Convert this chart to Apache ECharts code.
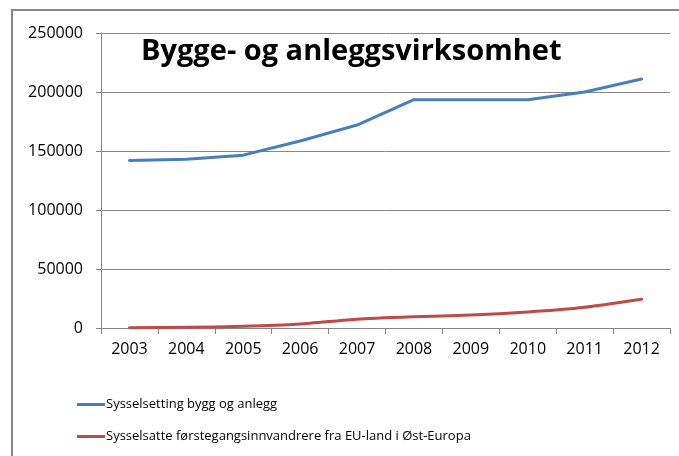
<!DOCTYPE html>
<html>
<head>
<meta charset="utf-8">
<style>
  html, body { margin: 0; padding: 0; background: #fff; }
  #chart { width: 679px; height: 456px; }
</style>
<script src="https://cdn.jsdelivr.net/npm/echarts@6/dist/echarts.min.js"></script>
</head>
<body>
<div id="chart"></div>
<script>
// data
const years = ['2003', '2004', '2005', '2006', '2007', '2008', '2009', '2010', '2011', '2012'];
const totalBuild = [142000, 143000, 146500, 158500, 172000, 193500, 193500, 193500, 200000, 211000];
const eastEuWorkers = [300, 600, 1400, 3400, 7500, 9500, 11000, 13500, 17500, 24300];
const seriesNames = [
  'Sysselsetting bygg og anlegg',
  'Sysselsatte førstegangsinnvandrere fra EU-land i Øst-Europa'
];

const font = '"Open Sans", sans-serif';

const chart = echarts.init(document.getElementById('chart'));
chart.setOption({
  animation: false,
  backgroundColor: '#fff',
  title: {
    text: 'Bygge- og anleggsvirksomhet',
    left: 136,
    top: 32,
    textStyle: { fontFamily: font, fontWeight: 'bold', fontSize: 29, color: '#000' }
  },
  graphic: [{
    type: 'rect',
    shape: { x: 12, y: 10, width: 700, height: 500 },
    style: { fill: 'none', stroke: '#868686', lineWidth: 2 },
    silent: true
  }],
  legend: {
    orient: 'vertical',
    left: 72,
    top: 393,
    itemWidth: 28,
    itemHeight: 3,
    itemGap: 19,
    icon: 'rect',
    textStyle: { fontFamily: font, fontSize: 13, color: '#000', padding: [0, 0, 0, -4] },
    data: seriesNames
  },
  grid: { left: 101, right: 9, top: 33, bottom: 128, containLabel: false },
  xAxis: {
    type: 'category',
    data: years,
    boundaryGap: true,
    axisLine: { lineStyle: { color: '#868686', width: 1 } },
    axisTick: { show: true, length: 6, lineStyle: { color: '#868686' } },
    axisLabel: { fontFamily: font, fontSize: 16, color: '#000', margin: 13 }
  },
  yAxis: {
    type: 'value',
    min: 0,
    max: 250000,
    interval: 50000,
    axisLine: { show: true, lineStyle: { color: '#868686', width: 1 } },
    axisTick: { show: true, length: 5, lineStyle: { color: '#868686' } },
    axisLabel: { fontFamily: font, fontSize: 16, color: '#000', margin: 18, formatter: v => String(v) },
    splitLine: { lineStyle: { color: '#868686', width: 1 } }
  },
  series: [
    {
      name: seriesNames[0],
      type: 'line',
      data: totalBuild,
      showSymbol: false,
      symbol: 'none',
      color: '#4a7ebb',
      lineStyle: { width: 3, color: '#4a7ebb', cap: 'round', join: 'round' }
    },
    {
      name: seriesNames[1],
      type: 'line',
      data: eastEuWorkers,
      showSymbol: false,
      symbol: 'none',
      smooth: 0.2,
      color: '#be4b48',
      lineStyle: { width: 3, color: '#be4b48', cap: 'round', join: 'round' }
    }
  ]
});
</script>
</body>
</html>
